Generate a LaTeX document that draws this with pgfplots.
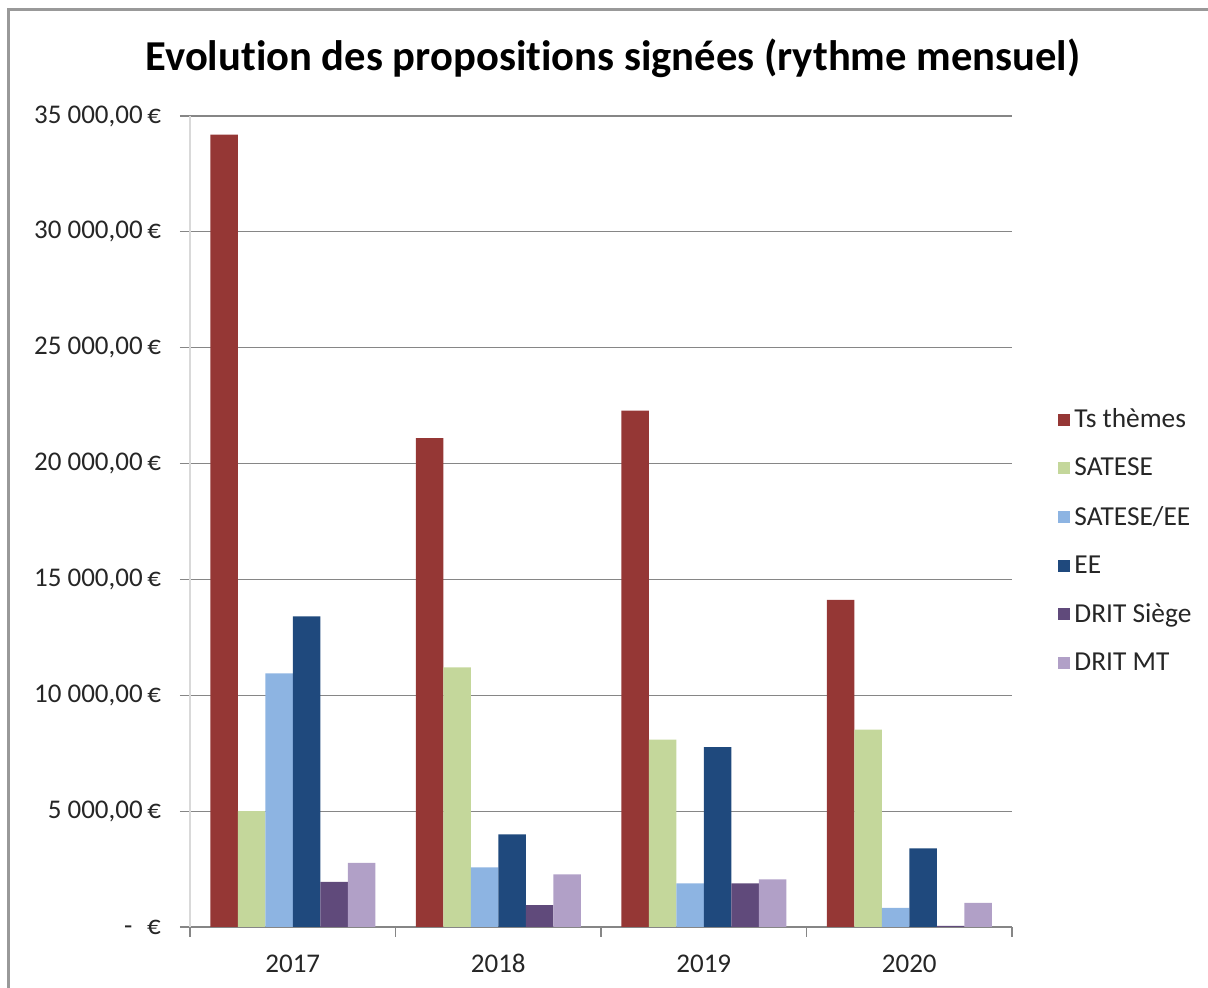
\documentclass[border=0pt]{standalone}
\usepackage{fontspec}
\setmainfont{Carlito}[Ligatures=NoCommon]
\usepackage{pgfplots}
\pgfplotsset{compat=1.18}
\definecolor{cTs}{RGB}{149,55,53}
\definecolor{cSat}{RGB}{196,215,155}
\definecolor{cSatEE}{RGB}{141,180,226}
\definecolor{cEE}{RGB}{31,73,125}
\definecolor{cSiege}{RGB}{96,74,123}
\definecolor{cMT}{RGB}{177,160,199}
\definecolor{gridc}{RGB}{134,134,134}
\definecolor{txt}{RGB}{38,38,38}

\begin{document}
\begin{tikzpicture}
\path[use as bounding box] (0,0) rectangle (604pt,494pt);
\draw[gray!80, line width=1.5pt] (4pt,0) -- (4pt,489pt) -- (604pt,489pt);
\node[font=\fontsize{21.3}{25}\selectfont\bfseries] at (306.5pt,465pt)
  {Evolution des propositions signées (rythme mensuel)};
\begin{axis}[
  at={(95pt,30.5pt)}, anchor=south west,
  scale only axis, width=411pt, height=405.5pt,
  ybar=0pt, bar width=13.75pt,
  xmin=-0.5, xmax=3.5, ymin=0, ymax=35000,
  xtick={-0.5,0.5,1.5,2.5,3.5}, x tick label as interval,
  xticklabels={2017,2018,2019,2020},
  ytick={0,5000,10000,15000,20000,25000,30000,35000},
  scaled y ticks=false,
  yticklabels={{-\hspace{0.55em}€}, {5~000,00\,€}, {10~000,00\,€}, {15~000,00\,€},
    {20~000,00\,€}, {25~000,00\,€}, {30~000,00\,€}, {35~000,00\,€}},
  axis x line*=bottom, axis y line*=left,
  x axis line style={gridc, -},
  y axis line style={gray!30, line width=1pt, -},
  ymajorgrids, grid style={gridc, line width=0.6pt},
  tick align=outside, major tick length=5pt,
  tick style={gridc, line width=0.6pt},
  tick label style={font=\fontsize{13.5}{15}\selectfont, text=txt},
  yticklabel style={xshift=-6pt},
  xticklabel style={yshift=-5pt, text height=9pt, text depth=0pt},
  legend style={at={(1.0487,0.476)}, anchor=west, draw=none, fill=none,
    font=\fontsize{13.7}{15}\selectfont, text=txt, row sep=9.7pt},
  legend cell align=left,
  legend image code/.code={\fill[#1] (0pt,-3pt) rectangle (6pt,3pt);},
]
\addplot[fill=cTs, draw=none] coordinates {(0,34200) (1,21100) (2,22280) (3,14120)};
\addplot[fill=cSat, draw=none] coordinates {(0,5000) (1,11200) (2,8090) (3,8520)};
\addplot[fill=cSatEE, draw=none] coordinates {(0,10950) (1,2570) (2,1880) (3,820)};
\addplot[fill=cEE, draw=none] coordinates {(0,13400) (1,4000) (2,7760) (3,3390)};
\addplot[fill=cSiege, draw=none] coordinates {(0,1950) (1,940) (2,1880) (3,50)};
\addplot[fill=cMT, draw=none] coordinates {(0,2770) (1,2270) (2,2050) (3,1040)};
\legend{Ts thèmes, SATESE, SATESE/EE, EE, DRIT Siège, DRIT MT}
\end{axis}
\end{tikzpicture}
\end{document}
